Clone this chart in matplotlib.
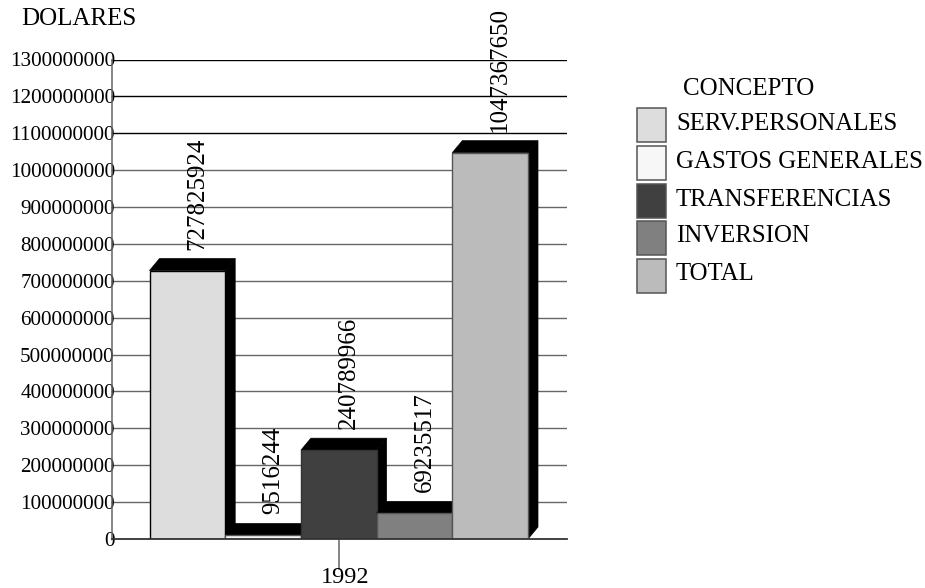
import matplotlib
matplotlib.use('Agg')
import matplotlib.pyplot as plt
from matplotlib.patches import Polygon, Rectangle
from matplotlib.transforms import ScaledTranslation

conceptos = ['SERV.PERSONALES', 'GASTOS GENERALES', 'TRANSFERENCIAS', 'INVERSION', 'TOTAL']
valores = [727825924, 9516244, 240789966, 69235517, 1047367650]
colores = ['#dddddd', '#f7f7f7', '#404040', '#808080', '#bbbbbb']
bordes = ['#000000', '#555555', '#333333', '#555555', '#555555']
y_ticks = list(range(0, 1400000000, 100000000))
anio = '1992'

plt.rcParams['font.family'] = ['Liberation Serif', 'DejaVu Serif']

W, H = 925, 588
fig = plt.figure(figsize=(W / 100, H / 100), dpi=100)
ax = fig.add_axes([112 / W, (H - 539) / H, 455 / W, 479.5 / H])

bar_px = 75.7
x_left = -0.5 - 37.5 / bar_px
ax.set_xlim(x_left, x_left + 455 / bar_px)
ax.set_ylim(0, 1300000000)

# profundidad del efecto 3D
dx = 10 / bar_px
dy = 12 / 479.5 * 1300000000

# rejilla: las tres de arriba salen negras, el resto gris
for v in y_ticks[1:]:
    ax.axhline(v, color='#000000' if v >= 1100000000 else '#666666', lw=1.0, zorder=1)

for i, (val, col, borde) in enumerate(zip(valores, colores, bordes)):
    x0, x1 = i - 0.5, i + 0.5
    z = 3 + i
    ax.add_patch(Polygon([(x0, val), (x0 + dx, val + dy), (x1 + dx, val + dy), (x1, val)],
                         closed=True, fc='black', ec='black', lw=0.5, zorder=z))
    ax.add_patch(Polygon([(x1, 0), (x1 + dx, dy), (x1 + dx, val + dy), (x1, val)],
                         closed=True, fc='black', ec='black', lw=0.5, zorder=z))
    ax.bar(i, val, width=1, color=col, edgecolor=borde, linewidth=1, zorder=z + 0.5)
    ax.annotate(str(val), (i + dx, val + dy), xytext=(0, 6.5), textcoords='offset points',
                rotation=90, ha='center', va='bottom', fontsize=18, zorder=20)

for side in ['top', 'right']:
    ax.spines[side].set_visible(False)
ax.spines['left'].set_color('#666666')
ax.spines['left'].set_linewidth(1.1)
ax.spines['bottom'].set_color('#333333')
ax.spines['bottom'].set_linewidth(1.3)
ax.spines['bottom'].set_zorder(15)

ax.set_yticks(y_ticks)
ax.set_yticklabels([str(v) for v in y_ticks], fontsize=15.2)
ax.tick_params(axis='y', length=1, width=1, color='#333333', pad=-3)
ax.set_xticks([2])
ax.set_xticklabels([anio], fontsize=17.5)
ax.tick_params(axis='x', length=22, width=1.1, color='#666666', pad=-2)
for lab in ax.get_xticklabels():
    lab.set_transform(lab.get_transform() + ScaledTranslation(6.5 / 100, 0, fig.dpi_scale_trans))

# textos y leyenda en pixeles de la figura
def px(x, y):
    return x / W, (H - y) / H

fig.text(*px(21, 19), 'DOLARES', fontsize=18, va='center', ha='left')
fig.text(*px(683, 89), 'CONCEPTO', fontsize=18, va='center', ha='left')
leg_y = [108, 146, 184, 221, 259]
for nombre, col, y in zip(conceptos, colores, leg_y):
    fig.add_artist(Rectangle(px(637, y + 34), 29 / W, 34 / H, transform=fig.transFigure,
                             fc=col, ec='#555555', lw=1.1))
    fig.text(*px(676, y + 15.5), nombre, fontsize=17.9, va='center', ha='left')

fig.savefig('out.png', dpi=100, facecolor='white')
